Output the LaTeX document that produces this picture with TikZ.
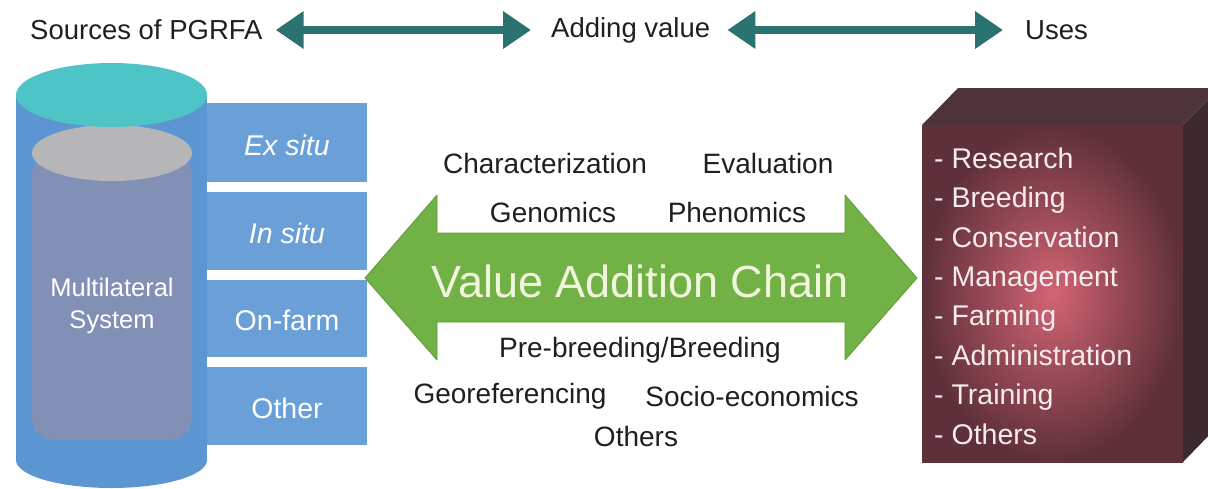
\documentclass[tikz,border=0pt]{standalone}
\usepackage{fontspec}
\setmainfont{Liberation Sans}
\usetikzlibrary{arrows.meta}
\definecolor{teal1}{HTML}{2B7370}
\definecolor{cyltop}{HTML}{4FC4C6}
\definecolor{cylbody}{HTML}{5B96D2}
\definecolor{cylin}{HTML}{8290B6}
\definecolor{cylgrey}{HTML}{B6B6B9}
\definecolor{boxblue}{HTML}{6AA0D7}
\definecolor{green1}{HTML}{72B145}
\definecolor{green2}{HTML}{5E9A37}
\definecolor{vtext}{HTML}{F0F6DC}
\definecolor{cubein}{HTML}{D36474}
\definecolor{cubeout}{HTML}{5E3039}
\definecolor{cubetop}{HTML}{4E3338}
\definecolor{cubeside}{HTML}{3D2A2E}
\definecolor{listtxt}{HTML}{F6ECEE}
\tikzset{
  toplabel/.style={font=\fontsize{27.5}{30}\selectfont, inner sep=0pt, text=black!88},
  toparrow/.style={teal1, line width=8pt, {Triangle[length=28pt,width=36pt]}-{Triangle[length=28pt,width=36pt]}},
  srcbox/.style={fill=boxblue, draw=none},
  boxtext/.style={font=\fontsize{28.5}{30}\selectfont, text=white, inner sep=0pt},
  chainlabel/.style={font=\fontsize{28}{30}\selectfont, text=black!88, inner sep=0pt},
}
\begin{document}
\begin{tikzpicture}[x=1pt,y=-1pt]
\useasboundingbox (0,0) rectangle (1208,488);
% top row
\node[toplabel, anchor=west] (src) at (30,30) {Sources of PGRFA};
\node[toplabel, anchor=west] (add) at (551,30) {Adding value};
\node[toplabel, anchor=west] (use) at (1025,30) {Uses};
\draw[toparrow] ([xshift=13pt]src.east) -- ([xshift=-20pt]add.west);
\draw[toparrow] ([xshift=17pt]add.east) -- ([xshift=-22pt]use.west);
% cylinder
\fill[cylbody] (16,95) rectangle (207,460);
\fill[cylbody] (111.5,460) ellipse [x radius=95.5, y radius=28];
\fill[cylin, rounded corners=22pt] (32,153) -- (32,440) -- (192,440) -- (192,153) -- cycle;
\fill[cylgrey] (112,153) ellipse [x radius=80, y radius=28];
\fill[cyltop] (111.5,95) ellipse [x radius=95.5, y radius=32];
\node[boxtext, align=center, font=\fontsize{25.5}{32}\selectfont] (mls) at (112,306) {Multilateral\\System};
% source boxes
\fill[srcbox] (207,103) rectangle (367,182);
\fill[srcbox] (207,192) rectangle (367,270);
\fill[srcbox] (207,280) rectangle (367,357);
\fill[srcbox] (207,367) rectangle (367,445);
\node[boxtext] (ex) at (287,145) {\itshape Ex situ};
\node[boxtext] (in) at (287,233) {\itshape In situ};
\node[boxtext] (on) at (287,320) {On-farm};
\node[boxtext] (ot) at (287,408) {Other};
% green double arrow
\filldraw[fill=green1, draw=green2, line width=0.8pt, line join=round]
  (365,278) -- (437,195) -- (437,233) -- (845,233) -- (845,195) -- (917,278)
  -- (845,360) -- (845,322) -- (437,322) -- (437,360) -- cycle;
\node[font=\fontsize{45}{48}\selectfont, text=vtext, inner sep=0pt] (vac) at (640,281) {Value Addition Chain};
\node[chainlabel] (char) at (545,163) {Characterization};
\node[chainlabel] (eval) at (768,163) {Evaluation};
\node[chainlabel] (gen) at (553,212) {Genomics};
\node[chainlabel] (phen) at (737,212) {Phenomics};
\node[chainlabel] (pre) at (640,350) {Pre-breeding/Breeding};
\node[chainlabel] (geo) at (510,396) {Georeferencing};
\node[chainlabel] (soc) at (752,396) {Socio-economics};
\node[chainlabel] (oth) at (636,436) {Others};
% cube
\begin{scope}
\clip (0,0) rectangle (1208,488);
\fill[cubetop] (922,125) -- (958,88) -- (1220,88) -- (1183,125) -- cycle;
\fill[cubeside] (1183,125) -- (1220,88) -- (1220,424) -- (1183,462) -- cycle;
\shade[inner color=cubein, outer color=cubeout] (922,125) rectangle (1183,462);
\end{scope}
\node[anchor=west, align=left, text=listtxt, inner sep=0pt,
      font=\fontsize{28.5}{39.4}\selectfont] (uses) at (934,296)
  {- Research\\- Breeding\\- Conservation\\- Management\\- Farming\\- Administration\\- Training\\- Others};
\end{tikzpicture}
\end{document}
